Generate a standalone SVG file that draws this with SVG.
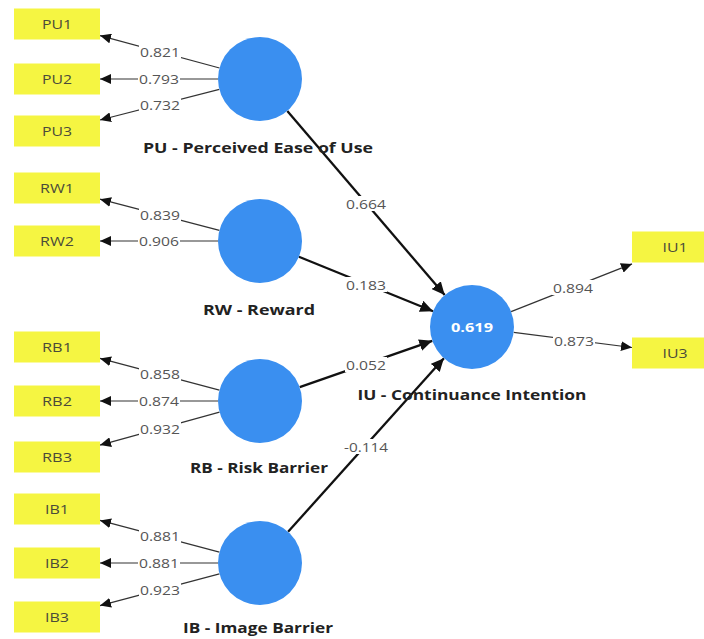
<svg xmlns="http://www.w3.org/2000/svg" width="704" height="639" viewBox="0 0 704 639">
<style>
.ind rect{fill:#f5f542}
.ind text{font-family:"Open Sans","Liberation Sans",sans-serif;font-size:13px;fill:#4a4a3a;text-anchor:middle;dominant-baseline:central}
.lv circle{fill:#3a8ff0}
.lv text{font-family:"Open Sans","Liberation Sans",sans-serif;font-size:15px;font-weight:bold;fill:#222;text-anchor:middle}
.lv text.r2{fill:#fff;font-size:13px;dominant-baseline:central}
.ld{stroke:#333;stroke-width:1.2;fill:none;marker-end:url(#ah)}
.pc{stroke:#111;stroke-width:2.3;fill:none;marker-end:url(#ah2)}
.lb rect{fill:#fff}
.lb text{font-family:"Open Sans","Liberation Sans",sans-serif;font-size:13px;fill:#555;text-anchor:middle;dominant-baseline:central}
</style>
<defs>
<marker id="ah" markerUnits="userSpaceOnUse" markerWidth="12" markerHeight="10" refX="11" refY="5" orient="auto"><path d="M0,0 L11,5 L0,10 Z" fill="#111"/></marker>
<marker id="ah2" markerUnits="userSpaceOnUse" markerWidth="14" markerHeight="12" refX="13" refY="6" orient="auto"><path d="M0,0 L13,6 L0,12 Z" fill="#111"/></marker>
</defs>
<rect width="704" height="639" fill="#fff"/>
<g id="connectors">
<line class="ld" x1="219.5" y1="68" x2="100" y2="35.6"/>
<line class="ld" x1="218" y1="79" x2="100" y2="79"/>
<line class="ld" x1="219.3" y1="89.4" x2="100" y2="120"/>
<line class="ld" x1="219.4" y1="230.4" x2="100" y2="199.2"/>
<line class="ld" x1="218" y1="241" x2="100" y2="241"/>
<line class="ld" x1="219.4" y1="390.2" x2="100" y2="358.4"/>
<line class="ld" x1="218" y1="401" x2="100" y2="401"/>
<line class="ld" x1="219.5" y1="412.2" x2="100" y2="445.1"/>
<line class="ld" x1="219.4" y1="552.2" x2="100" y2="520.4"/>
<line class="ld" x1="218" y1="563" x2="100" y2="563"/>
<line class="ld" x1="219.4" y1="573.8" x2="100" y2="605.6"/>
<line class="ld" x1="511.1" y1="311.6" x2="632" y2="263.9"/>
<line class="ld" x1="513.7" y1="332.3" x2="632" y2="347.5"/>
<line class="pc" x1="287.3" y1="110.9" x2="444.7" y2="295.1"/>
<line class="pc" x1="298.9" y1="256.8" x2="433.1" y2="311.2"/>
<line class="pc" x1="299.7" y1="387.2" x2="432.3" y2="340.8"/>
<line class="pc" x1="288.1" y1="531.8" x2="443.9" y2="358.2"/>
<g class="lb">
<rect x="139" y="45" width="42" height="15"/><text x="160" y="52" textLength="40" lengthAdjust="spacingAndGlyphs">0.821</text>
<rect x="138" y="72" width="42" height="15"/><text x="159" y="79" textLength="40" lengthAdjust="spacingAndGlyphs">0.793</text>
<rect x="139" y="97" width="42" height="15"/><text x="160" y="104.7" textLength="40" lengthAdjust="spacingAndGlyphs">0.732</text>
<rect x="139" y="207" width="42" height="15"/><text x="160" y="214.8" textLength="40" lengthAdjust="spacingAndGlyphs">0.839</text>
<rect x="138" y="234" width="42" height="15"/><text x="159" y="241" textLength="40" lengthAdjust="spacingAndGlyphs">0.906</text>
<rect x="139" y="367" width="42" height="15"/><text x="160" y="374.3" textLength="40" lengthAdjust="spacingAndGlyphs">0.858</text>
<rect x="138" y="394" width="42" height="15"/><text x="159" y="401" textLength="40" lengthAdjust="spacingAndGlyphs">0.874</text>
<rect x="139" y="421" width="42" height="15"/><text x="160" y="428.7" textLength="40" lengthAdjust="spacingAndGlyphs">0.932</text>
<rect x="139" y="529" width="42" height="15"/><text x="160" y="536.3" textLength="40" lengthAdjust="spacingAndGlyphs">0.881</text>
<rect x="138" y="556" width="42" height="15"/><text x="159" y="563" textLength="40" lengthAdjust="spacingAndGlyphs">0.881</text>
<rect x="139" y="582" width="42" height="15"/><text x="160" y="589.7" textLength="40" lengthAdjust="spacingAndGlyphs">0.923</text>
<rect x="552" y="280" width="42" height="15"/><text x="573" y="288" textLength="40" lengthAdjust="spacingAndGlyphs">0.894</text>
<rect x="553" y="333" width="42" height="15"/><text x="574" y="340.5" textLength="40" lengthAdjust="spacingAndGlyphs">0.873</text>
<rect x="345" y="196" width="42" height="15"/><text x="366" y="203.5" textLength="40" lengthAdjust="spacingAndGlyphs">0.664</text>
<rect x="345" y="277" width="42" height="15"/><text x="366" y="285" textLength="40" lengthAdjust="spacingAndGlyphs">0.183</text>
<rect x="345" y="357" width="42" height="15"/><text x="366" y="364.5" textLength="40" lengthAdjust="spacingAndGlyphs">0.052</text>
<rect x="343" y="439" width="46" height="15"/><text x="366" y="446.5" textLength="44" lengthAdjust="spacingAndGlyphs">-0.114</text>
</g>
</g>
<g id="PU1" class="ind"><rect x="14" y="8.5" width="86" height="31"/><text x="57" y="24" textLength="30" lengthAdjust="spacingAndGlyphs">PU1</text></g>
<g id="PU2" class="ind"><rect x="14" y="63.5" width="86" height="31"/><text x="57" y="79" textLength="30" lengthAdjust="spacingAndGlyphs">PU2</text></g>
<g id="PU3" class="ind"><rect x="14" y="115.5" width="86" height="31"/><text x="57" y="131" textLength="30" lengthAdjust="spacingAndGlyphs">PU3</text></g>
<g id="RW1" class="ind"><rect x="14" y="172.5" width="86" height="31"/><text x="57" y="188" textLength="34" lengthAdjust="spacingAndGlyphs">RW1</text></g>
<g id="RW2" class="ind"><rect x="14" y="225.5" width="86" height="31"/><text x="57" y="241" textLength="34" lengthAdjust="spacingAndGlyphs">RW2</text></g>
<g id="RB1" class="ind"><rect x="14" y="331.5" width="86" height="31"/><text x="57" y="347" textLength="30" lengthAdjust="spacingAndGlyphs">RB1</text></g>
<g id="RB2" class="ind"><rect x="14" y="385.5" width="86" height="31"/><text x="57" y="401" textLength="30" lengthAdjust="spacingAndGlyphs">RB2</text></g>
<g id="RB3" class="ind"><rect x="14" y="441.5" width="86" height="31"/><text x="57" y="457" textLength="30" lengthAdjust="spacingAndGlyphs">RB3</text></g>
<g id="IB1" class="ind"><rect x="14" y="493.5" width="86" height="31"/><text x="57" y="509" textLength="24" lengthAdjust="spacingAndGlyphs">IB1</text></g>
<g id="IB2" class="ind"><rect x="14" y="547.5" width="86" height="31"/><text x="57" y="563" textLength="24" lengthAdjust="spacingAndGlyphs">IB2</text></g>
<g id="IB3" class="ind"><rect x="14" y="601.5" width="86" height="31"/><text x="57" y="617" textLength="24" lengthAdjust="spacingAndGlyphs">IB3</text></g>
<g id="IU1" class="ind"><rect x="632" y="231.5" width="86" height="31"/><text x="675" y="247" textLength="25" lengthAdjust="spacingAndGlyphs">IU1</text></g>
<g id="IU3" class="ind"><rect x="632" y="337.5" width="86" height="31"/><text x="675" y="353" textLength="25" lengthAdjust="spacingAndGlyphs">IU3</text></g>
<g id="PU" class="lv"><circle cx="260" cy="79" r="42"/><text x="258" y="153" textLength="230" lengthAdjust="spacingAndGlyphs">PU - Perceived Ease of Use</text></g>
<g id="RW" class="lv"><circle cx="260" cy="241" r="42"/><text x="259" y="315" textLength="112" lengthAdjust="spacingAndGlyphs">RW - Reward</text></g>
<g id="RB" class="lv"><circle cx="260" cy="401" r="42"/><text x="259" y="473" textLength="138" lengthAdjust="spacingAndGlyphs">RB - Risk Barrier</text></g>
<g id="IB" class="lv"><circle cx="260" cy="563" r="42"/><text x="258" y="633" textLength="150" lengthAdjust="spacingAndGlyphs">IB - Image Barrier</text></g>
<g id="IU" class="lv"><circle cx="472" cy="327" r="42"/><text class="r2" x="472" y="327" textLength="42" lengthAdjust="spacingAndGlyphs">0.619</text><text x="472" y="400" textLength="229" lengthAdjust="spacingAndGlyphs">IU - Continuance Intention</text></g>
</svg>
